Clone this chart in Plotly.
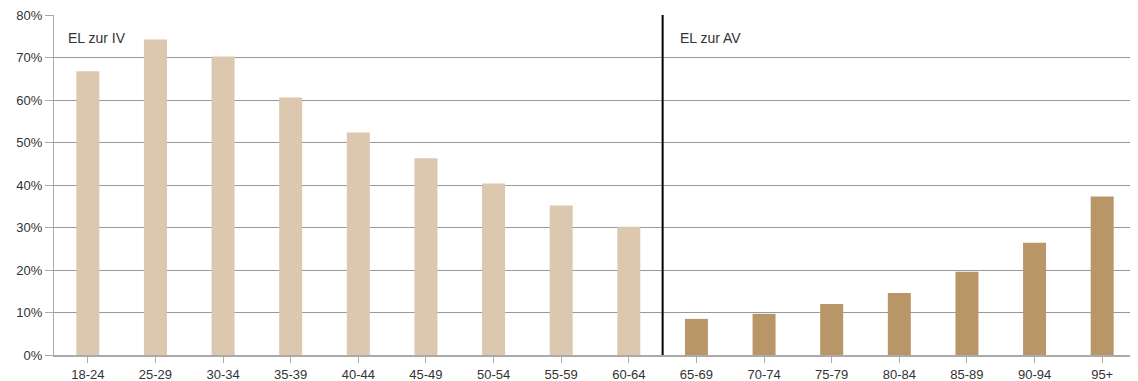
import plotly.graph_objects as go

categories = ["18-24", "25-29", "30-34", "35-39", "40-44", "45-49", "50-54", "55-59", "60-64",
              "65-69", "70-74", "75-79", "80-84", "85-89", "90-94", "95+"]
values_iv = [66.8, 74.3, 70.3, 60.6, 52.4, 46.3, 40.4, 35.2, 30.2]
values_av = [8.5, 9.7, 12.0, 14.6, 19.6, 26.4, 37.3]
cats_iv = categories[:9]
cats_av = categories[9:]
y_ticks = [0, 10, 20, 30, 40, 50, 60, 70, 80]
y_labels = [f"{v}%" for v in y_ticks]

fig = go.Figure()
fig.add_trace(go.Bar(x=cats_iv, y=values_iv, marker=dict(color="#DCC8AE", line=dict(width=0)),
                     width=0.34, name="EL zur IV", showlegend=False))
fig.add_trace(go.Bar(x=cats_av, y=values_av, marker=dict(color="#B89668", line=dict(width=0)),
                     width=0.34, name="EL zur AV", showlegend=False))

fig.add_shape(type="line", xref="x", yref="paper", x0=8.5, x1=8.5, y0=0, y1=1,
              line=dict(color="#000000", width=2))

fig.add_annotation(x=0, y=1, xref="paper", yref="paper", xanchor="left", yanchor="top",
                   text="EL zur IV", showarrow=False, xshift=12, yshift=-13,
                   font=dict(size=14, color="#333333"))
fig.add_annotation(x=8.5, y=1, xref="x", yref="paper", xanchor="left", yanchor="top",
                   text="EL zur AV", showarrow=False, xshift=15, yshift=-13,
                   font=dict(size=14, color="#333333"))

fig.update_layout(
    width=1130, height=373,
    margin=dict(l=46, r=2, t=7, b=26),
    paper_bgcolor="white", plot_bgcolor="white",
    font=dict(family="Liberation Sans, Arial, sans-serif", size=13, color="#333333"),
    bargap=0.66,
    xaxis=dict(categoryorder="array", categoryarray=categories, range=[-0.5, 15.5],
               automargin=False,
               showgrid=False, ticks="outside", ticklen=6, tickcolor="#aaaaaa",
               showline=True, linecolor="#aaaaaa", linewidth=2, zeroline=False),
    yaxis=dict(range=[0, 80.05], tickvals=y_ticks, ticktext=y_labels,
               automargin=False, ticklabeloverflow="allow",
               showgrid=True, gridcolor="#999999", gridwidth=1,
               ticks="outside", ticklen=8, tickcolor="#aaaaaa",
               showline=True, linecolor="#aaaaaa", linewidth=1, zeroline=False),
)

fig.write_html("out.html")
